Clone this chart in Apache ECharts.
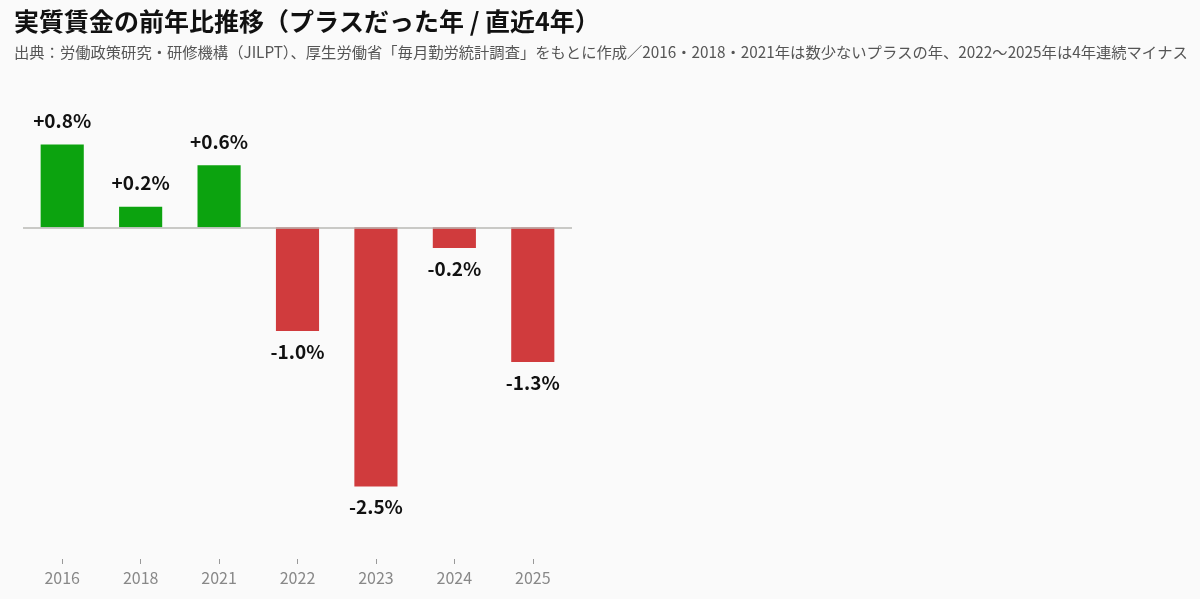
<!DOCTYPE html>
<html lang="ja">
<head>
    <meta charset="UTF-8">
    <title>実質賃金の前年比推移</title>
    <script src="https://cdn.jsdelivr.net/npm/echarts@6/dist/echarts.min.js"></script>
    <style>
        html, body { margin: 0; padding: 0; background: #fafafa; }
        #chart { width: 1200px; height: 599px; }
    </style>
</head>
<body>
<div id="chart"></div>
<script type="text/javascript">
    // データ
    var years = ['2016', '2018', '2021', '2022', '2023', '2024', '2025'];
    var realWageChange = [0.8, 0.2, 0.6, -1.0, -2.5, -0.2, -1.3];
    var plusColor = '#0ca30f';
    var minusColor = '#d03b3d';

    var titleText = '実質賃金の前年比推移（プラスだった年 / 直近4年）';
    var subText = '出典：労働政策研究・研修機構（JILPT）、厚生労働省「毎月勤労統計調査」をもとに作成／2016・2018・2021年は数少ないプラスの年、2022〜2025年は4年連続マイナス';

    var font = '"Noto Sans CJK JP", "Noto Sans", sans-serif';

    var myChart = echarts.init(document.getElementById('chart'));

    var option = {
        backgroundColor: '#fafafa',
        textStyle: { fontFamily: font },
        title: {
            text: titleText,
            subtext: subText,
            left: 9,
            top: 4,
            itemGap: 11,
            textStyle: { fontSize: 25, fontWeight: 'bold', color: '#111', fontFamily: font },
            subtextStyle: { fontSize: 15.3, color: '#555', fontFamily: font }
        },
        grid: {
            left: 23,
            width: 549,
            top: 103,
            bottom: 40
        },
        xAxis: {
            type: 'category',
            data: years,
            axisLine: { show: false, onZero: false },
            axisTick: { show: true, alignWithLabel: true, length: 5, lineStyle: { color: '#999' } },
            axisLabel: { color: '#888', fontSize: 16, margin: 11, fontFamily: font }
        },
        yAxis: {
            type: 'value',
            min: -3.2,
            max: 1.2,
            show: false,
            splitLine: { show: false }
        },
        series: [
            {
                type: 'bar',
                barWidth: '55%',
                data: realWageChange.map(function (v) {
                    return {
                        value: v,
                        itemStyle: { color: v >= 0 ? plusColor : minusColor },
                        label: { position: v >= 0 ? 'top' : 'bottom', distance: v >= 0 ? 14 : 11 }
                    };
                }),
                label: {
                    show: true,
                    fontSize: 19,
                    fontWeight: 'bold',
                    color: '#111',
                    fontFamily: font,
                    formatter: function (p) {
                        var v = p.value;
                        return (v > 0 ? '+' : '') + v.toFixed(1) + '%';
                    }
                },
                markLine: {
                    silent: true,
                    symbol: 'none',
                    label: { show: false },
                    lineStyle: { color: '#b8b8b4', type: 'solid', width: 1.5 },
                    data: [{ yAxis: 0 }]
                }
            }
        ]
    };
    myChart.setOption(option, true);
</script>
</body>
</html>
